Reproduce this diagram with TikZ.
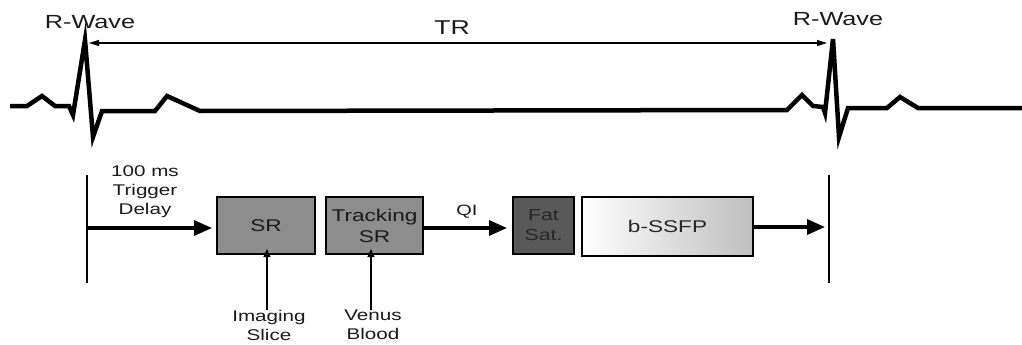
\documentclass[tikz,border=0pt]{standalone}
\usepackage{fontspec}
\setmainfont{Liberation Sans}
\usepackage{graphicx}
\usetikzlibrary{arrows.meta}
\newcommand{\sx}[1]{\scalebox{1.33}[1]{#1}}
\definecolor{srgray}{HTML}{8D8D8D}
\definecolor{fatgray}{HTML}{595959}
\definecolor{txtdark}{HTML}{1A1A1A}
\begin{document}
\begin{tikzpicture}[x=1pt,y=-1pt]
\useasboundingbox (0,0) rectangle (1022,345);
\tikzset{
 ecg/.style={line width=4.5pt, line join=miter},
 box/.style={draw=black, line width=2pt, minimum height=57pt, inner sep=0pt, text=txtdark, align=center},
 bigarrow/.style={line width=3.3pt, -{Triangle[length=18pt,width=15pt]}},
 thinarrow/.style={line width=1.2pt, -{Triangle[length=8pt,width=7pt]}},
 trarrow/.style={line width=1.4pt, {Triangle[length=10pt,width=6pt]}-{Triangle[length=10pt,width=6pt]}},
 lbl/.style={font=\fontsize{15.5}{19}\selectfont, align=center, inner sep=0pt, text=txtdark},
 wave/.style={font=\fontsize{19}{22}\selectfont, inner sep=0pt, text=txtdark},
 vline/.style={line width=2.2pt},
}
% ECG trace
\draw[ecg] (10,106) -- (27,106) -- (42,96) -- (55,106) -- (69,106) -- (73,115)
  -- (85,40) -- (93,137) -- (102,111) -- (155,111) -- (167,96) -- (200,111)
  -- (787,110) -- (802,95) -- (813,106) -- (823,107) -- (825,113)
  -- (833,39) -- (839,137) -- (848,108) -- (887,108) -- (900,97) -- (918,108) -- (1022,108);
% labels on top
\node[wave] (rw1) at (90,22) {\sx{R-Wave}};
\node[wave] (rw2) at (838,19) {\sx{R-Wave}};
\node[font=\fontsize{20}{24}\selectfont, inner sep=0pt, text=txtdark] (tr) at (452,28) {\sx{TR}};
\coordinate (trL) at (89,43);
\coordinate (trR) at (827,43);
\draw[trarrow] (trL) -- (trR);
% vertical markers
\coordinate (lvTop) at (87,175);
\coordinate (lvBot) at (87,283);
\coordinate (rvTop) at (829,175);
\coordinate (rvBot) at (829,283);
\draw[vline] (lvTop) -- (lvBot);
\draw[vline] (rvTop) -- (rvBot);
% boxes
\node[box, fill=srgray, minimum width=98pt, font=\fontsize{17}{21}\selectfont] (sr) at (266,225.5) {\sx{SR}};
\node[box, fill=srgray, minimum width=97pt, font=\fontsize{17}{21}\selectfont] (tsr) at (374.5,225.5) {\sx{Tracking}\\\sx{SR}};
\node[box, fill=fatgray, minimum width=61pt, font=\fontsize{16}{20}\selectfont, text=black!85] (fat) at (543.5,225.5) {\sx{Fat}\\\sx{Sat.}};
\node[box, left color=white, right color=gray!50, minimum width=171pt, minimum height=59pt, font=\fontsize{17}{21}\selectfont, text=black!85] (ssfp) at (667.5,226.5) {\sx{b-SSFP}};
% arrows
\coordinate (start) at (87,228);
\draw[bigarrow] (start) -- ([xshift=-4pt]sr.west |- start);
\draw[bigarrow] (tsr.east |- 0,228) coordinate (qiS) -- ([xshift=-5pt]fat.west |- qiS);
\coordinate (rend) at (825,227);
\draw[bigarrow] (ssfp.east |- rend) -- (rend);
% text labels
\node[lbl] (delay) at (145,192) {\sx{100 ms}\\\sx{Trigger}\\\sx{Delay}};
\node[lbl, font=\fontsize{15}{18}\selectfont] (qi) at (467,212) {\sx{QI}};
\node[lbl] (img) at (269,325) {\sx{Imaging}\\\sx{Slice}};
\node[lbl] (ven) at (373,325) {\sx{Venus}\\\sx{Blood}};
\draw[thinarrow] (img.north -| 267,0) -- ([yshift=6pt]sr.south -| 267,0);
\draw[thinarrow] (ven.north -| 371,0) -- ([yshift=6pt]tsr.south -| 371,0);
\end{tikzpicture}
\end{document}
